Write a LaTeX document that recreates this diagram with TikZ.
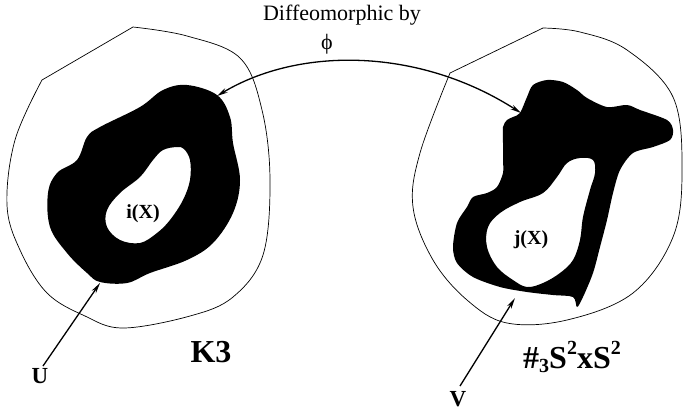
\documentclass[tikz,border=0pt]{standalone}
\usepackage{fontspec}
\setmainfont{Liberation Serif}
\usetikzlibrary{arrows.meta}
\begin{document}
\begin{tikzpicture}[x=1pt,y=-1pt,
  outline/.style={draw=black,line width=0.7pt},
  blob/.style={fill=black,even odd rule},
  pointer/.style={draw=black,line width=1.3pt,-{Stealth[length=11pt,width=5pt]}},
  bigbold/.style={font=\fontsize{32}{34}\selectfont\bfseries,inner sep=0pt},
  midbold/.style={font=\fontsize{23}{25}\selectfont\bfseries,inner sep=0pt},
  smallbold/.style={font=\fontsize{20}{22}\selectfont\bfseries,inner sep=0pt},
  toptext/.style={font=\fontsize{22}{24}\selectfont,inner sep=0pt}]
\useasboundingbox (0,0) rectangle (684,413);
% outer regions
\draw[outline] plot[smooth,tension=0.6] coordinates {(42,80) (15,140) (7,205) (20,250) (47,293) (85,316) (123,328) (190,316) (233,297) (263,255) (270,180) (262,110) (240,58) (187,36) (133,27)} -- cycle;
\draw[outline] plot[smooth,tension=0.6] coordinates {(450,73) (420,153) (413,207) (433,260) (467,300) (507,323) (567,320) (633,293) (673,237) (682,170) (673,97) (627,50) (580,32) (543,28)} -- cycle;
% left blob
\path[blob] plot[smooth cycle,tension=0.6] coordinates {(217,95) (187,85) (163,90) (140,107) (100,127) (87,137) (77,160) (57,173) (48,193) (50,227) (67,253) (87,273) (100,282) (127,283) (150,273) (187,260) (213,243) (233,213) (240,180) (233,143) (230,117)}
  plot[smooth cycle,tension=0.6] coordinates {(177,147) (163,150) (153,160) (140,177) (120,193) (107,210) (107,227) (120,240) (140,243) (157,233) (170,220) (183,200) (190,180) (190,160) (184,149)};
% right blob
\path[blob] plot[smooth cycle,tension=0.5] coordinates {(520,113) (527,97) (533,85) (547,80) (563,82) (577,90) (587,98) (607,107) (627,105) (640,110) (667,120) (673,130) (670,140) (653,147) (633,153) (620,170) (613,193) (607,220) (600,247) (593,273) (583,297) (577,307) (573,297) (553,295) (527,292) (500,287) (473,277) (457,263) (453,247) (457,223) (467,207) (473,197) (487,193) (497,187) (503,173) (503,160) (503,143) (503,127) (507,120) (513,117)}
  plot[smooth cycle,tension=0.6] coordinates {(593,160) (580,158) (567,163) (557,177) (543,193) (520,202) (500,213) (488,227) (487,247) (497,267) (513,280) (527,287) (543,283) (560,273) (573,260) (580,240) (583,217) (590,190) (595,173)};
% labels
\node[smallbold] (ix) at (143,214) {i(X)};
\node[smallbold] (jx) at (531,240) {j(X)};
\node[toptext] (diffeo) at (342,15) {Diffeomorphic by};
\node[toptext] (phi) at (327,44) {ϕ};
\node[bigbold] (k3) at (211,352) {K3};
\node[bigbold] (s2) at (572,357) {\#\raisebox{-0.3ex}{\fontsize{20}{22}\selectfont 3}S\raisebox{0.95ex}{\fontsize{20}{22}\selectfont 2}xS\raisebox{0.95ex}{\fontsize{20}{22}\selectfont 2}};
\node[midbold] (lblU) at (40,376) {U};
\node[midbold] (lblV) at (458,399) {V};
% arrows
\coordinate (uTail) at (43,366);
\coordinate (uTip) at (100,283);
\coordinate (vTail) at (460,386);
\coordinate (vTip) at (515,298);
\coordinate (leftTip) at (217,96);
\coordinate (rightTip) at (521,113);
\draw[pointer] (uTail) -- (uTip);
\draw[pointer] (vTail) -- (vTip);
\draw[draw=black,line width=1.3pt,{Stealth[length=11pt,width=5pt]}-{Stealth[length=11pt,width=5pt]}] (leftTip) .. controls (300,46) and (420,48) .. (rightTip);
\end{tikzpicture}
\end{document}
